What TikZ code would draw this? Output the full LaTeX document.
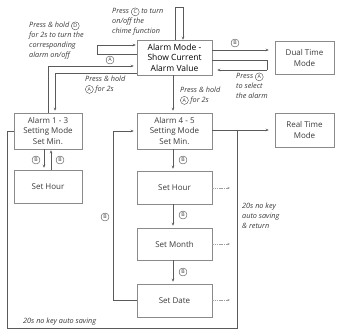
\documentclass[tikz,border=0pt]{standalone}
\usepackage{fontspec}
\setmainfont{Open Sans}
\usetikzlibrary{arrows.meta}
\definecolor{txt}{HTML}{3A3A3A}
\definecolor{boxgray}{HTML}{8A8A8A}
\definecolor{linegray}{HTML}{5A5A5A}
\newcommand\cir[1]{\tikz[baseline=(c.base)]\node[draw=txt, line width=0.35pt, circle, inner sep=0pt, minimum size=8pt, font=\upshape\fontsize{5.2}{5.5}\selectfont, text=txt](c){#1};}
\begin{document}
\begin{tikzpicture}[x=1pt,y=-1pt,
  boxst/.style={draw=boxgray, line width=0.5pt, align=center, font=\fontsize{8}{10.5}\selectfont, text=txt, inner sep=0pt},
  arr/.style={draw=linegray, line width=0.5pt, -{Stealth[length=3pt,width=2.5pt]}},
  ln/.style={draw=linegray, line width=0.5pt},
  dotarr/.style={draw=gray!75, line width=0.4pt, dash pattern=on 1.5pt off 0.8pt, -{Stealth[length=2.5pt,width=2pt]}},
  note/.style={font=\itshape\fontsize{7.3}{10}\selectfont, text=txt, align=left, anchor=north west, inner sep=0pt},
  lab/.style={draw=txt, line width=0.35pt, circle, inner sep=0pt, minimum size=8pt, font=\fontsize{5.2}{5.5}\selectfont, text=txt}]
\useasboundingbox[fill=white] (0,0) rectangle (337,329);
% boxes
\node[boxst, minimum width=75pt, minimum height=35pt, text=black, font=\fontsize{8.5}{10.5}\selectfont] (AM) at (174.5,57.5) {Alarm Mode -\\Show Current\\Alarm Value};
\node[boxst, minimum width=59pt, minimum height=33pt] (DT) at (304.5,58) {Dual Time\\Mode};
\node[boxst, minimum width=68pt, minimum height=36pt] (A13) at (48,131) {Alarm 1 - 3\\Setting Mode\\Set Min.};
\node[boxst, minimum width=68pt, minimum height=33pt] (SH1) at (48,186.5) {Set Hour};
\node[boxst, minimum width=75pt, minimum height=36pt] (A45) at (174.5,131) {Alarm 4 - 5\\Setting Mode\\Set Min.};
\node[boxst, minimum width=59pt, minimum height=34pt] (RT) at (304.5,130) {Real Time\\Mode};
\node[boxst, minimum width=75pt, minimum height=33pt] (SH2) at (174.5,187.5) {Set Hour};
\node[boxst, minimum width=75pt, minimum height=32pt] (SM) at (174.5,244) {Set Month};
\node[boxst, minimum width=75pt, minimum height=33pt] (SD) at (174.5,300.5) {Set Date};
% junction coordinates
\coordinate (tl) at (175,7);
\coordinate (tr) at (183,7);
\coordinate (dl) at (97,54);
\coordinate (du) at (97,45);
\coordinate (ac) at (48,66);
\coordinate (pc) at (55,73);
\coordinate (sr) at (267,60);
\coordinate (sb) at (267,70);
\coordinate (jn) at (237,130);
\coordinate (bl) at (7,328);
\coordinate (br) at (237,328);
\coordinate (ll) at (7,131);
\coordinate (lb) at (113,300);
\coordinate (lt) at (113,131);
% top chime loop
\draw[ln] (AM.north -| tl) -- (tl) -- (tr);
\draw[arr] (tr) -- (AM.north -| tr);
% left D loop
\draw[ln] (AM.west |- dl) -- (dl) -- (du);
\draw[arr, shorten >=1pt] (du) -- (AM.west |- du);
% A back to alarm mode
\draw[ln] (A13.north -| ac) -- (ac);
\draw[arr, shorten >=3pt] (ac) -- (AM.west |- ac);
\node[lab] (la) at (110,60) {A};
% press & hold to alarm 1-3
\draw[ln] (AM.west |- pc) -- (pc);
\draw[arr, shorten >=2pt] (pc) -- (A13.north -| pc);
% B to dual time
\draw[arr, shorten >=6pt] (AM.east |- 0,50) -- (DT.west |- 0,50);
\node[lab] (lb1) at (235,43) {B};
% select loop
\draw[ln] (AM.east |- sr) -- (sr) -- (sb);
\draw[arr, shorten >=5pt] (sb) -- (AM.east |- sb);
% alarm mode to alarm 4-5
\draw[arr, shorten >=2pt] (AM.south -| 173,0) -- (A45.north -| 173,0);
% alarm 1-3 <-> set hour
\draw[arr, shorten >=2pt] (A13.south -| 44,0) -- (SH1.north -| 44,0);
\draw[arr, shorten >=1pt] (SH1.north -| 51,0) -- (A13.south -| 51,0);
\node[lab] (lb2) at (36,160) {B};
\node[lab] (lb3) at (60,160) {B};
% alarm 4-5 chain
\draw[arr, shorten >=2pt] (A45.south -| 173,0) -- (SH2.north -| 173,0);
\node[lab] (lb4) at (183,160) {B};
\draw[arr, shorten >=2pt] (SH2.south -| 173,0) -- (SM.north -| 173,0);
\node[lab] (lb5) at (183,215) {B};
\draw[arr, shorten >=2pt] (SM.south -| 173,0) -- (SD.north -| 173,0);
\node[lab] (lb6) at (183,272) {B};
% set date back to alarm 4-5
\draw[ln] (SD.west |- lb) -- (lb) -- (lt);
\draw[arr, shorten >=3pt] (lt) -- (A45.west |- lt);
\node[lab] (lb7) at (105,217) {B};
% to real time
\draw[arr, shorten >=6pt] (A45.east |- jn) -- (RT.west |- jn);
\draw[ln] (A13.west |- ll) -- (ll) -- (bl) -- (br) -- (jn);
% auto saving arrows
\draw[dotarr] (SH2.east |- 0,188) -- (230,188);
\draw[dotarr] (SM.east |- 0,244) -- (230,244);
\draw[dotarr] (SD.east |- 0,300) -- (230,300);
% notes
\node[note] (n1) at (112,7.5) {Press \cir{C} to turn\\on/off the\\chime function};
\node[note] (n2) at (29,21.5) {Press \& hold \cir{D}\\for 2s to turn the\\corresponding\\alarm on/off};
\node[note] (n3) at (85,75.5) {Press \& hold\\\cir{A} for 2s};
\node[note] (n4) at (180,86.5) {Press \& hold\\\cir{A} for 2s};
\node[note] (n5) at (236,72.5) {Press \cir{A}\\to select\\the alarm};
\node[note] (n6) at (242,202.5) {20s no key\\auto saving\\\& return};
\node[note] (n7) at (23,317.5) {20s no key auto saving};
\end{tikzpicture}
\end{document}
